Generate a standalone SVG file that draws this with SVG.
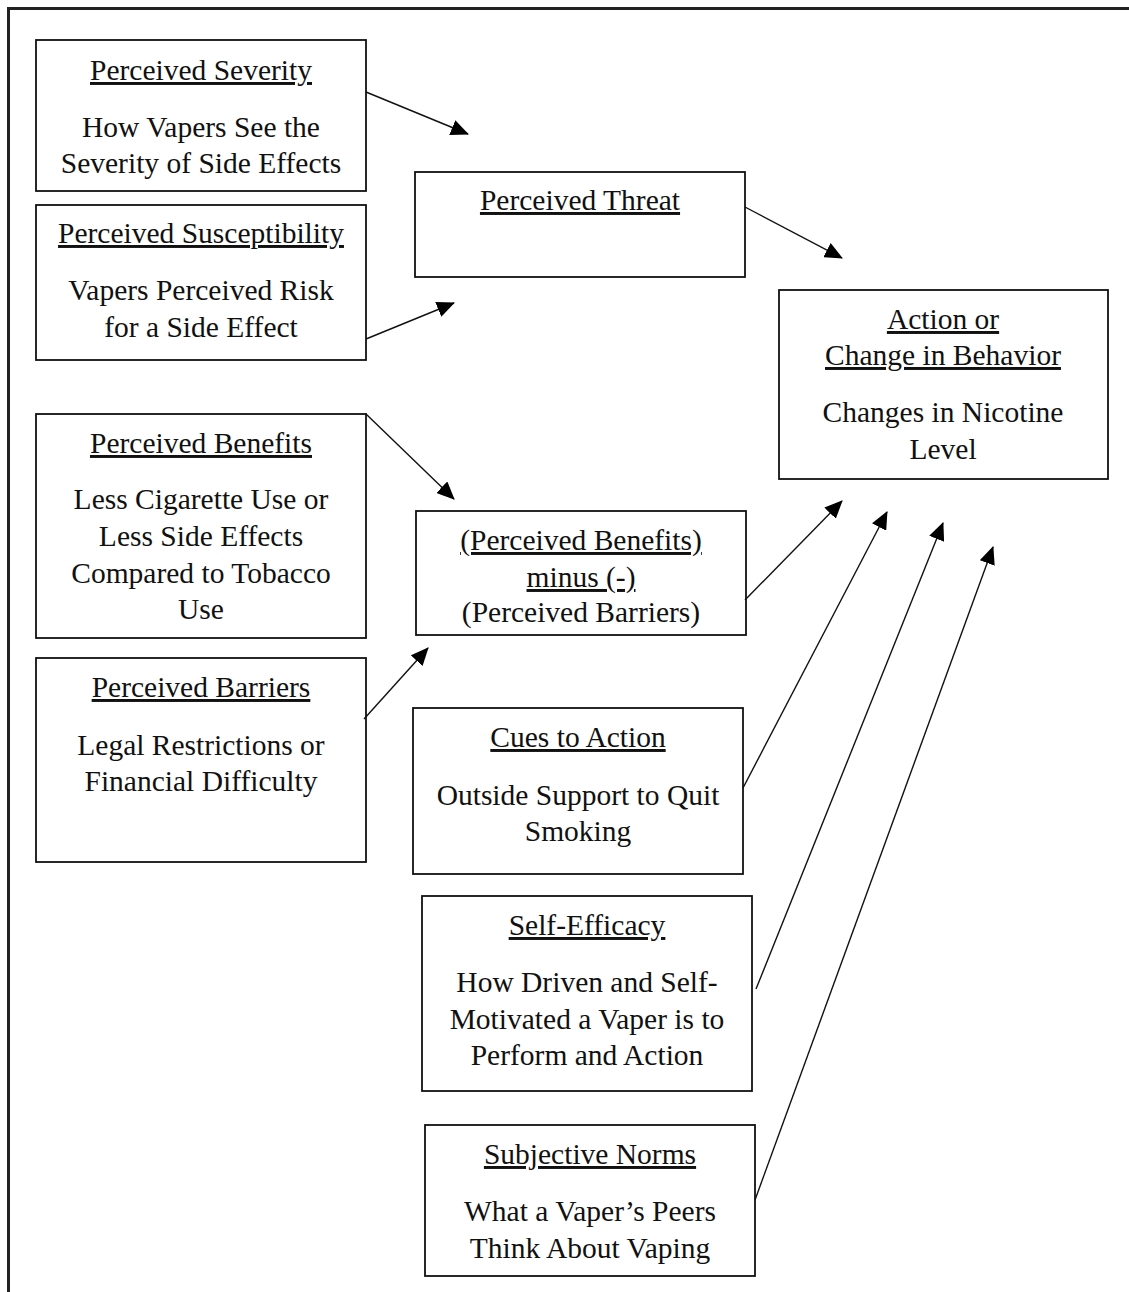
<svg xmlns="http://www.w3.org/2000/svg" width="1129" height="1292" viewBox="0 0 1129 1292">
<style>
.box{fill:#fff;stroke:#111;stroke-width:1.8}
.t{font-family:"Liberation Serif","Times New Roman",serif;font-size:29.5px;fill:#111;text-anchor:middle}
.u{text-decoration:underline;text-decoration-skip-ink:none}
.c{stroke:#111;stroke-width:1.4;fill:none;marker-end:url(#ah)}
</style>
<defs>
<marker id="ah" markerUnits="userSpaceOnUse" markerWidth="18" markerHeight="16" refX="17" refY="8" orient="auto" viewBox="0 0 18 16">
<path d="M0,0 L18,8 L0,16 z" fill="#000"/>
</marker>
</defs>
<rect x="8.5" y="8.5" width="1200" height="1400" fill="#fff" stroke="#222" stroke-width="3"/>
<g id="severity">
<rect class="box" x="36" y="40" width="330" height="151"/>
<text class="t u" x="201" y="80">Perceived Severity</text>
<text class="t" x="201" y="137">How Vapers See the</text>
<text class="t" x="201" y="173">Severity of Side Effects</text>
</g>
<g id="susceptibility">
<rect class="box" x="36" y="205" width="330" height="155"/>
<text class="t u" x="201" y="243">Perceived Susceptibility</text>
<text class="t" x="201" y="300">Vapers Perceived Risk</text>
<text class="t" x="201" y="337">for a Side Effect</text>
</g>
<g id="threat">
<rect class="box" x="415" y="172" width="330" height="105"/>
<text class="t u" x="580" y="210">Perceived Threat</text>
</g>
<g id="action">
<rect class="box" x="779" y="290" width="329" height="189"/>
<text class="t u" x="943" y="329">Action or</text>
<text class="t u" x="943" y="365">Change in Behavior</text>
<text class="t" x="943" y="422">Changes in Nicotine</text>
<text class="t" x="943" y="459">Level</text>
</g>
<g id="benefits">
<rect class="box" x="36" y="414" width="330" height="224"/>
<text class="t u" x="201" y="453">Perceived Benefits</text>
<text class="t" x="201" y="509">Less Cigarette Use or</text>
<text class="t" x="201" y="546">Less Side Effects</text>
<text class="t" x="201" y="583">Compared to Tobacco</text>
<text class="t" x="201" y="619">Use</text>
</g>
<g id="net">
<rect class="box" x="416" y="511" width="330" height="124"/>
<text class="t u" x="581" y="550">(Perceived Benefits)</text>
<text class="t u" x="581" y="587">minus (-)</text>
<text class="t" x="581" y="622">(Perceived Barriers)</text>
</g>
<g id="barriers">
<rect class="box" x="36" y="658" width="330" height="204"/>
<text class="t u" x="201" y="697">Perceived Barriers</text>
<text class="t" x="201" y="755">Legal Restrictions or</text>
<text class="t" x="201" y="791">Financial Difficulty</text>
</g>
<g id="cues">
<rect class="box" x="413" y="708" width="330" height="166"/>
<text class="t u" x="578" y="747">Cues to Action</text>
<text class="t" x="578" y="805">Outside Support to Quit</text>
<text class="t" x="578" y="841">Smoking</text>
</g>
<g id="efficacy">
<rect class="box" x="422" y="896" width="330" height="195"/>
<text class="t u" x="587" y="935">Self-Efficacy</text>
<text class="t" x="587" y="992">How Driven and Self-</text>
<text class="t" x="587" y="1029">Motivated a Vaper is to</text>
<text class="t" x="587" y="1065">Perform and Action</text>
</g>
<g id="norms">
<rect class="box" x="425" y="1125" width="330" height="151"/>
<text class="t u" x="590" y="1164">Subjective Norms</text>
<text class="t" x="590" y="1221">What a Vaper’s Peers</text>
<text class="t" x="590" y="1258">Think About Vaping</text>
</g>
<g id="connectors">
<line class="c" x1="366" y1="92" x2="468" y2="134"/>
<line class="c" x1="366" y1="339" x2="454" y2="303"/>
<line class="c" x1="745" y1="207" x2="842" y2="258"/>
<line class="c" x1="366" y1="414" x2="454" y2="499"/>
<line class="c" x1="364" y1="719" x2="428" y2="648"/>
<line class="c" x1="745" y1="600" x2="842" y2="501"/>
<line class="c" x1="743" y1="788" x2="887" y2="512"/>
<line class="c" x1="756" y1="989" x2="943" y2="523"/>
<line class="c" x1="755" y1="1200" x2="993" y2="547"/>
</g>
</svg>
